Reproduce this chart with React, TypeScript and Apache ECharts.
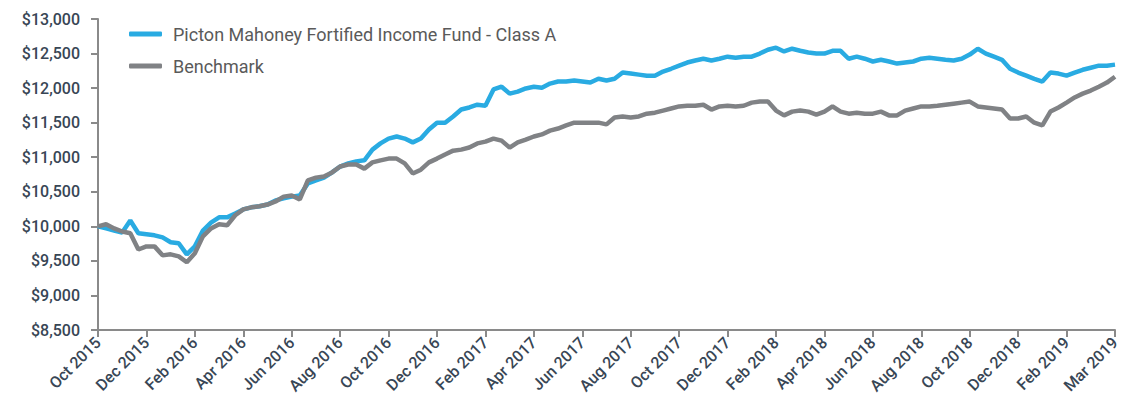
import React, { useEffect, useRef } from "react";
import * as echarts from "echarts";

const tickLabels = [
  "Oct 2015", "Dec 2015", "Feb 2016", "Apr 2016", "Jun 2016", "Aug 2016",
  "Oct 2016", "Dec 2016", "Feb 2017", "Apr 2017", "Jun 2017", "Aug 2017",
  "Oct 2017", "Dec 2017", "Feb 2018", "Apr 2018", "Jun 2018", "Aug 2018",
  "Oct 2018", "Dec 2018", "Feb 2019", "Mar 2019",
];
const pointsPerTick = 6;

const fundName = "Picton Mahoney Fortified Income Fund - Class A";
const benchName = "Benchmark";

const fundValues = [
  10000, 9970, 9940, 9910, 10085, 9900, 9885, 9870, 9840, 9770, 9755, 9595,
  9710, 9940, 10055, 10130, 10130, 10185, 10245, 10275, 10290, 10315, 10375, 10405,
  10430, 10445, 10620, 10665, 10705, 10780, 10865, 10910, 10940, 10955, 11110, 11200,
  11270, 11300, 11270, 11215, 11270, 11400, 11500, 11500, 11590, 11690, 11720, 11760,
  11745, 11980, 12020, 11920, 11950, 11995, 12020, 12005, 12065, 12095, 12095, 12110,
  12095, 12080, 12135, 12110, 12135, 12225, 12210, 12195, 12180, 12180, 12240, 12280,
  12325, 12370, 12400, 12425, 12400, 12425, 12455, 12440, 12455, 12455, 12500, 12555,
  12585, 12530, 12570, 12540, 12515, 12500, 12500, 12540, 12540, 12425, 12455, 12425,
  12385, 12410, 12385, 12355, 12370, 12385, 12425, 12440, 12425, 12410, 12400, 12425,
  12485, 12570, 12500, 12455, 12410, 12280, 12225, 12180, 12135, 12095, 12225, 12210,
  12180, 12225, 12265, 12295, 12325, 12325, 12340,
];

const benchValues = [
  10000, 10030, 9970, 9925, 9900, 9665, 9710, 9710, 9580, 9595, 9565, 9480,
  9610, 9855, 9970, 10030, 10015, 10160, 10245, 10275, 10290, 10315, 10360, 10430,
  10445, 10390, 10665, 10705, 10720, 10780, 10865, 10895, 10895, 10835, 10925, 10955,
  10980, 10980, 10910, 10765, 10820, 10925, 10980, 11040, 11095, 11110, 11140, 11200,
  11225, 11270, 11240, 11140, 11215, 11255, 11300, 11330, 11385, 11415, 11460, 11500,
  11500, 11500, 11500, 11475, 11575, 11590, 11575, 11590, 11630, 11645, 11675, 11705,
  11735, 11745, 11745, 11760, 11690, 11735, 11745, 11735, 11745, 11790, 11805, 11805,
  11675, 11605, 11660, 11675, 11660, 11615, 11660, 11735, 11660, 11630, 11645, 11630,
  11630, 11660, 11605, 11605, 11675, 11705, 11735, 11735, 11745, 11760, 11775, 11790,
  11805, 11735, 11720, 11705, 11690, 11560, 11560, 11590, 11500, 11460, 11660, 11720,
  11790, 11865, 11920, 11965, 12020, 12080, 12165,
];

const categories = fundValues.map((_, i) =>
  i % pointsPerTick === 0 ? tickLabels[i / pointsPerTick] : ""
);

const axisColor = "#8a8a8a";
const labelColor = "#384655";
const fontFamily = "Roboto, 'Noto Sans', sans-serif";

export default function App() {
  const ref = useRef<HTMLDivElement>(null);
  useEffect(() => {
    document.body.style.margin = "0";
    if (!ref.current) return;
    const chart = echarts.init(ref.current, undefined, { renderer: "svg" });
    chart.setOption({
      animation: false,
      backgroundColor: "#ffffff",
      grid: { left: 98, right: 10, top: 19, bottom: 86, containLabel: false },
      legend: {
        orient: "vertical",
        left: 129,
        top: 25,
        padding: 0,
        itemGap: 14,
        itemWidth: 33,
        itemHeight: 5,
        icon: "roundRect",
        textStyle: { color: "#5a5a5a", fontSize: 18, fontFamily, padding: [0, 0, 0, 6] },
        data: [fundName, benchName],
      },
      xAxis: {
        type: "category",
        data: categories,
        boundaryGap: false,
        axisLine: { show: true, lineStyle: { color: axisColor, width: 2 } },
        axisTick: {
          show: true,
          interval: pointsPerTick - 1,
          length: 7,
          lineStyle: { color: axisColor, width: 2 },
        },
        axisLabel: {
          interval: pointsPerTick - 1,
          rotate: 45,
          color: labelColor,
          fontSize: 16,
          fontWeight: 500,
          fontFamily,
          margin: 10,
        },
        splitLine: { show: false },
      },
      yAxis: {
        type: "value",
        min: 8500,
        max: 13000,
        interval: 500,
        axisLine: { show: true, lineStyle: { color: axisColor, width: 2 } },
        axisTick: { show: true, length: 7, lineStyle: { color: axisColor, width: 2 } },
        axisLabel: {
          color: labelColor,
          fontSize: 16,
          fontWeight: 500,
          fontFamily,
          margin: 18,
          formatter: (v: number) => "$" + v.toLocaleString("en-US"),
        },
        splitLine: { show: false },
      },
      series: [
        {
          name: fundName,
          type: "line",
          data: fundValues,
          showSymbol: false,
          symbol: "none",
          lineStyle: { color: "#29abe2", width: 4.5 },
          itemStyle: { color: "#29abe2" },
          z: 2,
        },
        {
          name: benchName,
          type: "line",
          data: benchValues,
          showSymbol: false,
          symbol: "none",
          lineStyle: { color: "#808285", width: 4.5 },
          itemStyle: { color: "#808285" },
          z: 3,
        },
      ],
    });
    return () => chart.dispose();
  }, []);
  return <div ref={ref} style={{ width: 1125, height: 416 }} />;
}
